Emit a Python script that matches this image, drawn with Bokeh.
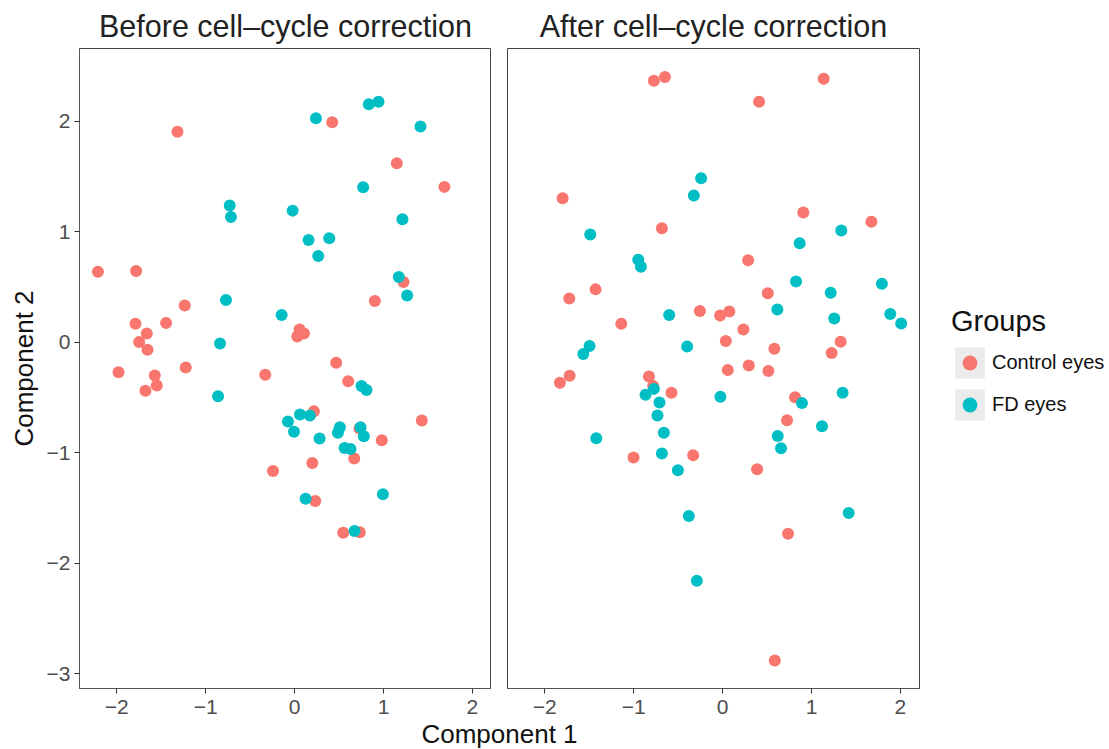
from bokeh.plotting import figure
from bokeh.layouts import row, column
from bokeh.models import Range1d, Legend, LegendItem, FixedTicker, ColumnDataSource, CustomJSTickFormatter
from bokeh.embed import file_html
from bokeh.resources import INLINE

# ---------------- data ----------------
panel_titles = ["Before cell\u2013cycle correction", "After cell\u2013cycle correction"]
group_names = ["Control eyes", "FD eyes"]
group_colors = ["#F8766D", "#00BFC4"]
x_ticks = [-2, -1, 0, 1, 2]
y_ticks = [-3, -2, -1, 0, 1, 2]

before_ctrl_x = [-1.318, -2.213, -1.783, -1.236, -1.790, -1.446, -1.663, -1.749, -1.655, -1.981,
                 -1.225, -1.573, -1.551, -1.678, -0.330, -0.243, 0.423, 1.150, 1.685, 1.225,
                 0.903, 0.056, 0.105, 0.030, 0.468, 0.603, 0.217, 0.730, 0.981, 1.431,
                 0.671, 0.199, 0.232, 0.547, 0.734]
before_ctrl_y = [1.906, 0.639, 0.645, 0.334, 0.168, 0.174, 0.080, 0.002, -0.068, -0.272,
                 -0.229, -0.301, -0.392, -0.440, -0.295, -1.165, 1.993, 1.621, 1.407, 0.546,
                 0.373, 0.116, 0.080, 0.053, -0.186, -0.352, -0.624, -0.780, -0.887, -0.709,
                 -1.053, -1.093, -1.437, -1.724, -1.721]

before_fd_x = [-0.730, -0.716, -0.772, -0.146, -0.839, -0.861, 0.835, 0.944, 0.240, 1.416,
               0.771, -0.022, 1.213, 0.157, 0.390, 0.266, 1.172, 1.266, 0.753, 0.809,
               0.060, 0.172, -0.075, -0.007, 0.281, 0.509, 0.487, 0.742, 0.779, 0.562,
               0.629, 0.993, 0.124, 0.674]
before_fd_y = [1.238, 1.135, 0.383, 0.247, -0.011, -0.488, 2.156, 2.178, 2.029, 1.954,
               1.404, 1.192, 1.113, 0.926, 0.941, 0.781, 0.591, 0.424, -0.397, -0.433,
               -0.654, -0.663, -0.718, -0.811, -0.872, -0.769, -0.820, -0.769, -0.850, -0.957,
               -0.966, -1.377, -1.416, -1.709]

after_ctrl_x = [-0.773, -0.649, -1.800, -0.683, -1.429, -1.725, -0.256, -1.140, -1.721, -1.830,
                -0.829, -0.781, -0.575, -1.002, -0.331, 1.137, 0.410, 0.908, 1.674, 0.287,
                0.508, -0.028, 0.076, 0.234, 0.036, 0.582, 1.328, 1.227, 0.058, 0.294,
                0.515, 0.815, 0.725, 0.388, 0.736, 0.587]
after_ctrl_y = [2.368, 2.401, 1.304, 1.032, 0.479, 0.397, 0.283, 0.168, -0.304, -0.367,
                -0.310, -0.397, -0.458, -1.044, -1.023, 2.386, 2.178, 1.174, 1.092, 0.742,
                0.443, 0.243, 0.279, 0.116, 0.011, -0.059, 0.005, -0.098, -0.252, -0.210,
                -0.261, -0.497, -0.706, -1.150, -1.733, -2.881]

after_fd_x = [-0.242, -0.324, -1.489, -0.949, -0.919, -0.601, -0.399, -1.497, -1.567, -0.773,
              -0.867, -0.710, -0.733, -0.025, -1.421, -0.661, -0.683, -0.503, -0.380, -0.290,
              1.335, 0.867, 0.826, 1.792, 1.216, 0.616, 1.886, 2.009, 1.256, 0.893,
              1.350, 1.118, 0.620, 0.657, 1.418]
after_fd_y = [1.485, 1.328, 0.975, 0.748, 0.684, 0.247, -0.038, -0.034, -0.107, -0.422,
              -0.476, -0.546, -0.663, -0.494, -0.869, -0.820, -1.008, -1.159, -1.573, -2.159,
              1.011, 0.896, 0.551, 0.530, 0.449, 0.297, 0.256, 0.171, 0.216, -0.551,
              -0.458, -0.760, -0.848, -0.960, -1.546]

# ---------------- styling ----------------
FONT = "Liberation Sans"
X_RANGE = (-2.42, 2.215)
Y_RANGE = (-3.135, 2.66)
FRAME_W = 412
FRAME_H = 640
LEFT_BORDER = 79
GAP = 16
PT_SIZE = 12

minus_fmt = CustomJSTickFormatter(code="return tick < 0 ? '\\u2212' + String(-tick) : String(tick);")


def make_panel(title, show_y, min_left, min_right):
    p = figure(frame_width=FRAME_W, frame_height=FRAME_H,
               x_range=Range1d(*X_RANGE), y_range=Range1d(*Y_RANGE),
               output_backend="svg", toolbar_location=None,
               min_border_left=min_left, min_border_right=min_right,
               min_border_top=45, min_border_bottom=0,
               title=title)
    p.title.text_font = FONT
    p.title.text_font_size = "30.5px"
    p.title.text_font_style = "normal"
    p.title.text_color = "#222222"
    p.title.align = "center"
    p.title.standoff = 12
    p.xgrid.visible = False
    p.ygrid.visible = False
    p.outline_line_color = "#444444"
    p.outline_line_width = 1
    p.background_fill_color = "white"
    p.border_fill_color = "white"
    for ax in p.xaxis:
        ax.ticker = FixedTicker(ticks=x_ticks)
        ax.formatter = minus_fmt
        ax.major_label_text_font = FONT
        ax.major_label_text_font_size = "21px"
        ax.major_label_text_color = "#4d4d4d"
        ax.major_tick_out = 5
        ax.major_tick_in = 0
        ax.minor_tick_out = 0
        ax.minor_tick_in = 0
        ax.major_label_standoff = 6
        ax.axis_line_color = "#555555"
        ax.major_tick_line_color = "#333333"
    if show_y:
        for ax in p.yaxis:
            ax.ticker = FixedTicker(ticks=y_ticks)
            ax.formatter = minus_fmt
            ax.major_label_text_font = FONT
            ax.major_label_text_font_size = "21px"
            ax.major_label_text_color = "#4d4d4d"
            ax.major_tick_out = 5
            ax.major_tick_in = 0
            ax.minor_tick_out = 0
            ax.minor_tick_in = 0
            ax.major_label_standoff = 4
            ax.axis_line_color = "#555555"
            ax.major_tick_line_color = "#333333"
            ax.axis_label = "Component 2"
            ax.axis_label_text_font = FONT
            ax.axis_label_text_font_size = "26px"
            ax.axis_label_text_font_style = "normal"
            ax.axis_label_text_color = "#111111"
            ax.axis_label_standoff = 5
    else:
        for ax in p.yaxis:
            ax.visible = False
    return p


p1 = make_panel(panel_titles[0], True, LEFT_BORDER, 0)
p2 = make_panel(panel_titles[1], False, GAP, 186)

src_b_c = ColumnDataSource(dict(x=before_ctrl_x, y=before_ctrl_y))
src_b_f = ColumnDataSource(dict(x=before_fd_x, y=before_fd_y))
src_a_c = ColumnDataSource(dict(x=after_ctrl_x, y=after_ctrl_y))
src_a_f = ColumnDataSource(dict(x=after_fd_x, y=after_fd_y))

# zero-area quads on the data points: invisible in the panel, they give the legend its grey key box
key_bg = p2.quad(left="x", right="x", top="y", bottom="y", source=src_a_c,
                 fill_color="#ebebeb", line_color=None)

p1.scatter("x", "y", source=src_b_c, size=PT_SIZE, fill_color=group_colors[0], line_color=None)
p1.scatter("x", "y", source=src_b_f, size=PT_SIZE, fill_color=group_colors[1], line_color=None)
r_ac = p2.scatter("x", "y", source=src_a_c, size=PT_SIZE, fill_color=group_colors[0], line_color=None)
r_af = p2.scatter("x", "y", source=src_a_f, size=PT_SIZE, fill_color=group_colors[1], line_color=None)

legend = Legend(items=[LegendItem(label=group_names[0], renderers=[key_bg, r_ac]),
                       LegendItem(label=group_names[1], renderers=[key_bg, r_af])],
                title="Groups", location=(32, 264), orientation="vertical")
legend.title_text_font = FONT
legend.title_text_font_size = "29px"
legend.title_text_font_style = "normal"
legend.title_text_color = "#111111"
legend.title_standoff = 5
legend.label_text_font = FONT
legend.label_text_font_size = "20px"
legend.label_text_color = "#111111"
legend.glyph_width = 37
legend.glyph_height = 39
legend.label_standoff = 4
legend.spacing = 3
legend.padding = 0
legend.margin = 0
legend.border_line_color = None
legend.background_fill_alpha = 0
p2.add_layout(legend, "right")

# shared x-axis title
p_lab = figure(frame_width=2 * FRAME_W + GAP, frame_height=1,
               output_backend="svg", toolbar_location=None,
               min_border_left=LEFT_BORDER, min_border_right=0, min_border_top=0, min_border_bottom=0,
               title="Component 1")
p_lab.title.text_font = FONT
p_lab.title.text_font_size = "26px"
p_lab.title.text_font_style = "normal"
p_lab.title.text_color = "#111111"
p_lab.title.align = "center"
p_lab.title.standoff = 0
p_lab.axis.visible = False
p_lab.xgrid.visible = False
p_lab.ygrid.visible = False
p_lab.outline_line_color = None

layout = column(row(p1, p2, spacing=0), p_lab, spacing=0)

open("out.html", "w").write(file_html(layout, INLINE))
